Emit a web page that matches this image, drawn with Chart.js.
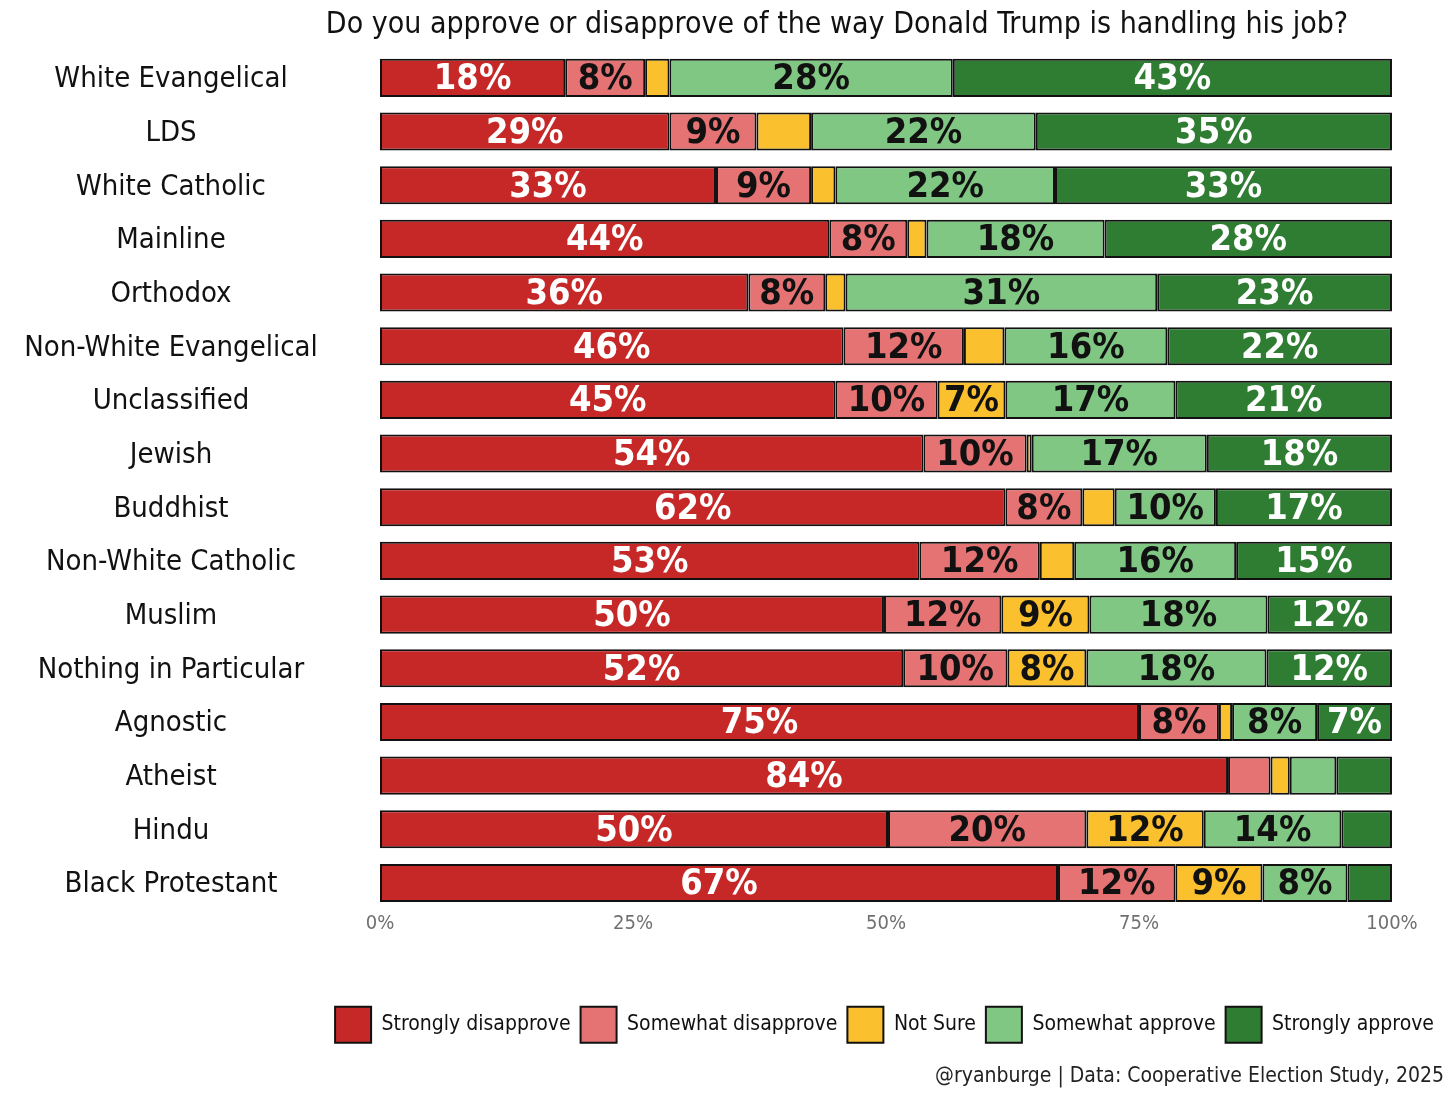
<!DOCTYPE html>
<html>
<head>
<meta charset="utf-8">
<script src="https://cdn.jsdelivr.net/npm/chart.js@4/dist/chart.umd.min.js"></script>
<style>
  html, body { margin: 0; padding: 0; background: #fff; }
  #wrap { width: 1456px; height: 1102px; position: relative; }
</style>
</head>
<body>
<div id="wrap"><canvas id="chart"></canvas></div>
<script>
// values (percent of each group)
const categories = ['White Evangelical', 'LDS', 'White Catholic', 'Mainline', 'Orthodox',
  'Non-White Evangelical', 'Unclassified', 'Jewish', 'Buddhist', 'Non-White Catholic',
  'Muslim', 'Nothing in Particular', 'Agnostic', 'Atheist', 'Hindu', 'Black Protestant'];
const stronglyDisapprove = [18.3, 28.6, 33.2, 44.4, 36.4, 45.8, 45.0, 53.7, 61.8, 53.3, 49.8, 51.7, 75.0, 83.8, 50.2, 67.0];
const somewhatDisapprove = [7.9, 8.6, 9.4, 7.7, 7.6, 11.9, 10.1, 10.2, 7.6, 11.9, 11.6, 10.3, 7.9, 4.2, 19.6, 11.6];
const notSure = [2.4, 5.4, 2.4, 1.9, 2.0, 4.0, 6.7, 0.5, 3.2, 3.4, 8.7, 7.8, 1.3, 1.9, 11.6, 8.6];
const somewhatApprove = [28.0, 22.2, 21.7, 17.6, 30.8, 16.1, 16.8, 17.3, 10.0, 16.0, 17.6, 17.8, 8.4, 4.6, 13.6, 8.4];
const stronglyApprove = [43.4, 35.2, 33.3, 28.4, 23.2, 22.2, 21.4, 18.3, 17.4, 15.4, 12.3, 12.4, 7.4, 5.5, 5.0, 4.4];
const seriesNames = ['Strongly disapprove', 'Somewhat disapprove', 'Not Sure', 'Somewhat approve', 'Strongly approve'];
const xTicks = [0, 25, 50, 75, 100];

const colors = ['#C62828', '#E57373', '#FBC02D', '#81C784', '#2E7D32'];
const labelColors = ['#fff', '#111', '#111', '#111', '#fff'];
const FONT = "'Liberation Sans Narrow', 'DejaVu Sans Condensed', 'Roboto', sans-serif";
const catFont = '29px ' + FONT;

Chart.defaults.font.family = FONT;
Chart.defaults.color = '#111';

// the group names are centred around x=171; the y ticks are mirrored so they are not clipped
const mctx = document.createElement('canvas').getContext('2d');
mctx.font = catFont;
const widest = Math.max(...categories.map(c => mctx.measureText(c).width));
const yTickPad = (171 - 380) - widest / 2;

// percentage text in the middle of every segment that is wide enough
const barLabels = {
  id: 'barLabels',
  afterDatasetsDraw(chart) {
    const ctx = chart.ctx;
    chart.data.datasets.forEach((ds, i) => {
      chart.getDatasetMeta(i).data.forEach((bar, j) => {
        const v = ds.data[j];
        if (v < 6.5) return;
        const p = bar.getProps(['x', 'y', 'base'], true);
        ctx.save();
        ctx.font = 'bold 36px ' + FONT;
        ctx.fillStyle = labelColors[i];
        ctx.textAlign = 'center';
        ctx.textBaseline = 'middle';
        ctx.fillText(Math.round(v) + '%', (p.x + p.base) / 2, p.y + 2);
        ctx.restore();
      });
    });
  }
};

const allSeries = [stronglyDisapprove, somewhatDisapprove, notSure, somewhatApprove, stronglyApprove];

new Chart(document.getElementById('chart'), {
  type: 'bar',
  data: {
    labels: categories,
    datasets: allSeries.map((arr, i) => ({
      label: seriesNames[i],
      data: arr,
      backgroundColor: colors[i],
      borderColor: '#111',
      borderWidth: 2,
      borderSkipped: false,
      categoryPercentage: 1,
      barPercentage: 0.71,
    })),
  },
  options: {
    indexAxis: 'y',
    responsive: true,
    maintainAspectRatio: false,
    animation: false,
    layout: { padding: { left: 230, right: 12, top: 0, bottom: 0 } },
    scales: {
      x: {
        stacked: true,
        min: 0,
        max: 105.14, // so 100% lands where the reference ends its bars
        grid: { display: false, drawTicks: false },
        border: { display: false },
        afterBuildTicks: (axis) => { axis.ticks = xTicks.map(v => ({ value: v })); },
        afterFit: (axis) => { axis.height = 87; },
        ticks: {
          padding: 2,
          color: '#707070',
          font: { size: 20 },
          callback: (v) => v + '%',
        },
      },
      y: {
        stacked: true,
        grid: { display: false, drawTicks: false },
        border: { display: false },
        afterFit: (axis) => { axis.width = 150; },
        ticks: {
          mirror: true,
          crossAlign: 'center',
          padding: yTickPad,
          labelOffset: 2,
          color: '#111',
          font: { size: 29 },
        },
      },
    },
    plugins: {
      title: {
        display: true,
        text: 'Do you approve or disapprove of the way Donald Trump is handling his job?',
        color: '#111',
        font: { size: 30, weight: 'normal' },
        padding: { top: 7, bottom: 8 },
      },
      subtitle: {
        display: true,
        position: 'bottom',
        align: 'end',
        text: '@ryanburge | Data: Cooperative Election Study, 2025',
        color: '#222',
        font: { size: 21 },
        padding: { top: 11, bottom: 13 },
      },
      legend: {
        position: 'bottom',
        align: 'end',
        labels: {
          boxWidth: 36,
          boxHeight: 36,
          padding: 10,
          color: '#111',
          font: { size: 21 },
        },
      },
      tooltip: { enabled: false },
    },
  },
  plugins: [barLabels],
});
</script>
</body>
</html>
